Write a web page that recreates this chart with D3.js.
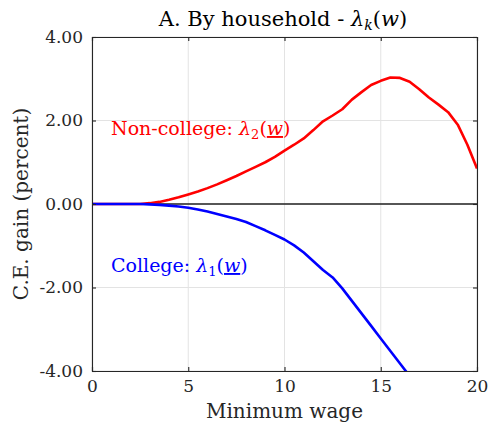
<!DOCTYPE html>
<html>
<head>
<meta charset="utf-8">
<script src="https://cdn.jsdelivr.net/npm/d3@7"></script>
<style>
  body { margin: 0; background: #fff; }
  text { font-family: "DejaVu Serif", serif; }
</style>
</head>
<body>
<div class="container"></div>
<script>
// values
var wage = [0, 1, 2, 2.5, 3, 3.5, 4, 4.5, 5, 5.5, 6, 6.5, 7, 7.5, 8, 8.5, 9, 9.5, 10,
            10.5, 11, 11.5, 12, 12.5, 13, 13.5, 14, 14.5, 15, 15.5, 16, 16.5, 17, 17.5,
            18, 18.5, 19, 19.5, 20];
var nonCollege = [0, 0, 0, 0, 0.02, 0.05, 0.1, 0.16, 0.23, 0.3, 0.38, 0.47, 0.57, 0.67,
                  0.78, 0.89, 1.0, 1.13, 1.28, 1.42, 1.57, 1.77, 1.98, 2.12, 2.27, 2.5,
                  2.68, 2.85, 2.95, 3.03, 3.02, 2.93, 2.75, 2.55, 2.38, 2.2, 1.9, 1.42, 0.85];
var college = [0, 0, 0, 0, -0.01, -0.02, -0.04, -0.06, -0.09, -0.13, -0.18, -0.24, -0.3,
               -0.36, -0.43, -0.53, -0.63, -0.74, -0.85, -0.99, -1.16, -1.37, -1.58, -1.76,
               -2.02, -2.32, -2.62, -2.92, -3.22, -3.52, -3.82, -4.12, -4.42, -4.72,
               -5.02, -5.32, -5.62, -5.92, -6.22];
var xTicks = [0, 5, 10, 15, 20];
var yTicks = [-4, -2, 0, 2, 4];

var width = 489, height = 430;
var margin = {top: 37, right: 12, bottom: 59, left: 92};

function makeStage(width, height) {
    var stage = d3.select(".container")
        .insert("svg")
        .attr("width", width)
        .attr("height", height);
    return stage;
}

var svg = makeStage(width, height);

var x = d3.scaleLinear().domain([0, 20]).range([margin.left, width - margin.right]);
var y = d3.scaleLinear().domain([-4, 4]).range([height - margin.bottom, margin.top]);

var axisColor = "#262626";

// grid
svg.append("g").selectAll("line").data(xTicks).join("line")
    .attr("x1", d => x(d)).attr("x2", d => x(d))
    .attr("y1", y(-4)).attr("y2", y(4))
    .attr("stroke", "#e3e3e3").attr("stroke-width", 1);
svg.append("g").selectAll("line").data(yTicks).join("line")
    .attr("x1", x(0)).attr("x2", x(20))
    .attr("y1", d => y(d)).attr("y2", d => y(d))
    .attr("stroke", "#e3e3e3").attr("stroke-width", 1);

// zero line
svg.append("line")
    .attr("x1", x(0)).attr("x2", x(20))
    .attr("y1", y(0)).attr("y2", y(0))
    .attr("stroke", "#222").attr("stroke-width", 1.3);

// curves
svg.append("clipPath").attr("id", "clip")
    .append("rect")
    .attr("x", x(0)).attr("y", y(4))
    .attr("width", x(20) - x(0)).attr("height", y(-4) - y(4));

var line = d3.line()
    .x((d, i) => x(wage[i]))
    .y(d => y(d));

svg.append("path").datum(nonCollege)
    .attr("d", line)
    .attr("fill", "none").attr("stroke", "#ff0000").attr("stroke-width", 2.6)
    .attr("stroke-linejoin", "round")
    .attr("clip-path", "url(#clip)");

svg.append("path").datum(college)
    .attr("d", line)
    .attr("fill", "none").attr("stroke", "#0000ff").attr("stroke-width", 2.6)
    .attr("stroke-linejoin", "round")
    .attr("clip-path", "url(#clip)");

// axes (ticks inward, box)
var fmtY = d => d3.format(".2f")(d).replace("\u2212", "-");
var xb = d3.axisBottom(x).tickValues(xTicks).tickSize(-4).tickPadding(9).tickFormat(d3.format("d"));
var xt = d3.axisTop(x).tickValues(xTicks).tickSize(-4).tickFormat("");
var yl = d3.axisLeft(y).tickValues(yTicks).tickSize(-4).tickPadding(9).tickFormat(fmtY);
var yr = d3.axisRight(y).tickValues(yTicks).tickSize(-4).tickFormat("");

function styleAxis(g) {
    g.select(".domain").attr("stroke", axisColor).attr("stroke-width", 1.1);
    g.selectAll(".tick line").attr("stroke", axisColor).attr("stroke-width", 1.1);
    g.selectAll(".tick text").attr("fill", "#262626")
        .style("font-family", "DejaVu Serif").style("font-size", "17px");
}

svg.append("g").attr("transform", "translate(0," + y(-4) + ")").call(xb).call(styleAxis);
svg.append("g").attr("transform", "translate(0," + y(4) + ")").call(xt).call(styleAxis);
svg.append("g").attr("transform", "translate(" + x(0) + ",0)").call(yl).call(styleAxis);
svg.append("g").attr("transform", "translate(" + x(20) + ",0)").call(yr).call(styleAxis);

// labels
svg.append("text")
    .attr("x", (x(0) + x(20)) / 2).attr("y", 418)
    .attr("text-anchor", "middle").attr("fill", "#262626")
    .style("font-size", "20px")
    .text("Minimum wage");

svg.append("text")
    .attr("transform", "translate(28," + y(0) + ") rotate(-90)")
    .attr("text-anchor", "middle").attr("fill", "#262626")
    .style("font-size", "20px")
    .text("C.E. gain (percent)");

var title = svg.append("text")
    .attr("x", 283).attr("y", 26)
    .attr("text-anchor", "middle").attr("fill", "#000")
    .style("font-size", "21px");
title.append("tspan").text("A. By household - ");
title.append("tspan").style("font-style", "italic").text("λ");
title.append("tspan").style("font-style", "italic").style("font-size", "14px").attr("dy", 4).text("k");
title.append("tspan").attr("dy", -4).text("(");
title.append("tspan").style("font-style", "italic").text("w");
title.append("tspan").text(")");

function seriesLabel(txt, sub, color, ypos) {
    var t = svg.append("text")
        .attr("x", 111).attr("y", ypos)
        .attr("fill", color)
        .style("font-size", "19px");
    t.append("tspan").text(txt + "  ");
    t.append("tspan").style("font-style", "italic").text("λ");
    t.append("tspan").style("font-size", "13px").attr("dy", 4).text(sub);
    t.append("tspan").attr("dy", -4).text("(");
    t.append("tspan").style("font-style", "italic").style("text-decoration", "underline").text("w");
    t.append("tspan").text(")");
}

seriesLabel("Non-college:", "2", "#ff0000", 135);
seriesLabel("College:", "1", "#0000ff", 272);
</script>
</body>
</html>
